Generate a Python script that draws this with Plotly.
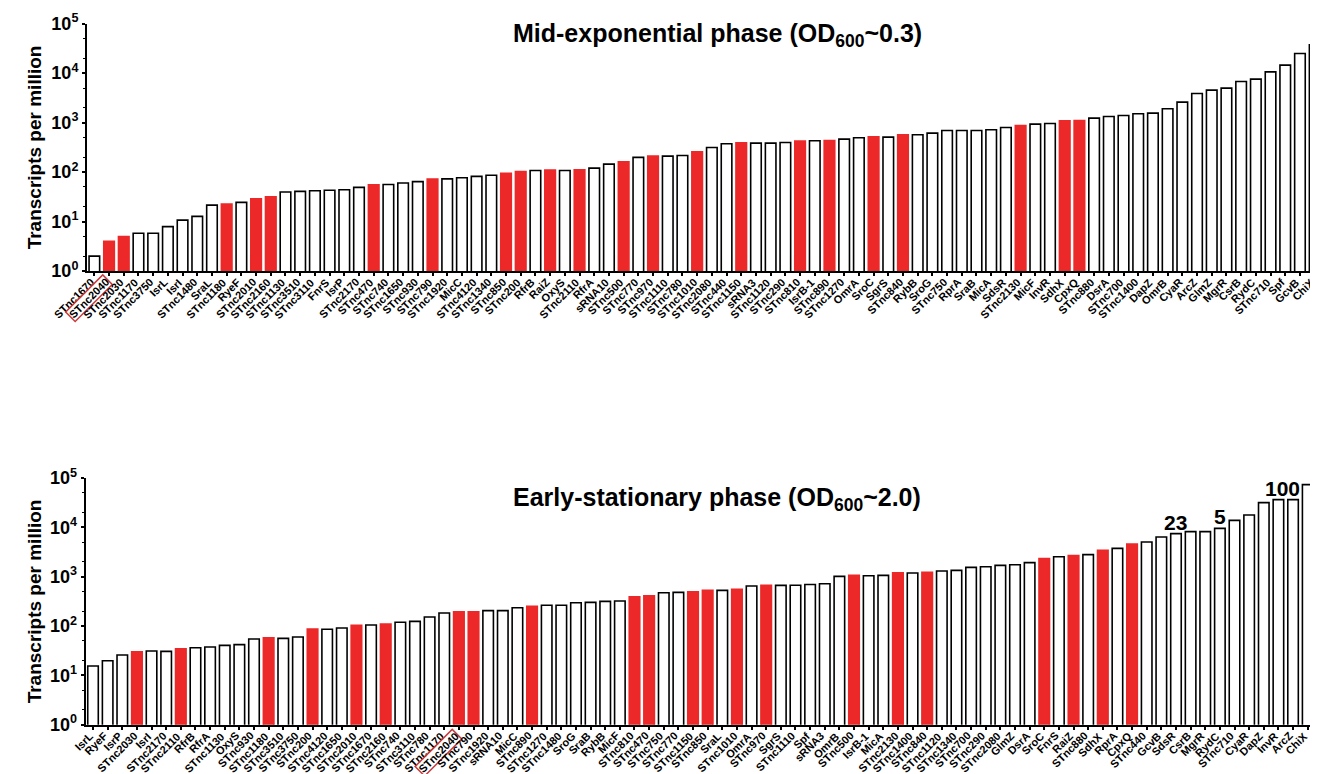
import math
import plotly.graph_objects as go

# ---------------- data ----------------
top_names = ["STnc1670", "STnc2040", "STnc2030", "STnc1170", "STnc3750", "IsrL", "IsrI", "STnc1480",
             "SraL", "STnc1180", "RyeF", "STnc2010", "STnc2160", "STnc1130", "STnc3510", "STnc3110",
             "FnrS", "IsrP", "STnc2170", "STnc470", "STnc740", "STnc1650", "STnc930", "STnc790",
             "STnc1920", "MicC", "STnc4120", "STnc1340", "STnc850", "STnc200", "RfrB", "RaiZ",
             "OxyS", "STnc2110", "RfrA", "sRNA10", "STnc500", "STnc770", "STnc970", "STnc1110",
             "STnc780", "STnc1010", "STnc2080", "STnc440", "STnc1150", "sRNA3", "STnc1120", "STnc290",
             "STnc810", "IsrB-1", "STnc890", "STnc1270", "OmrA", "SroC", "SgrS", "STnc840",
             "RybB", "SroG", "STnc750", "RprA", "SraB", "MicA", "SdsR", "STnc2130",
             "MicF", "InvR", "SdhX", "CpxQ", "STnc880", "DsrA", "STnc700", "STnc1400",
             "DapZ", "OmrB", "CyaR", "ArcZ", "GlmZ", "MgrR", "CsrB", "RydC",
             "STnc710", "Spf", "GcvB", "ChiX"]
top_values = [2.0, 4.0, 5.0, 5.8, 5.8, 7.9, 10.7, 12.7,
              21.5, 22.6, 24.4, 28.9, 31.8, 39.5, 40.7, 42,
              43, 44, 49, 55, 56, 60, 64, 72,
              73, 77, 82, 86, 95, 102, 108, 110,
              108, 111, 120, 145, 162, 198, 210, 210,
              217, 258, 315, 373, 391, 385, 385, 397,
              423, 430, 436, 464, 494, 518, 510, 568,
              568, 614, 695, 695, 695, 716, 798, 877,
              933, 962, 1089, 1106, 1233, 1333, 1397, 1508,
              1556, 1903, 2592, 3882, 4536, 4974, 6787, 7566,
              10640, 14520, 24950, 37350]

bottom_names = ["IsrL", "RyeF", "IsrP", "STnc2030", "IsrI", "STnc2170", "STnc2110", "RfrB",
                "RfrA", "STnc1130", "OxyS", "STnc930", "STnc1180", "STnc3510", "STnc3750", "STnc200",
                "STnc4120", "STnc1650", "STnc2010", "STnc1670", "STnc2160", "STnc740", "STnc3110", "STnc780",
                "STnc1170", "STnc2040", "STnc790", "STnc1920", "sRNA10", "MicC", "STnc890", "STnc1270",
                "STnc1480", "SroG", "SraB", "RybB", "MicF", "STnc810", "STnc470", "STnc750",
                "STnc770", "STnc1150", "STnc850", "SraL", "STnc1010", "OmrA", "STnc970", "SgrS",
                "STnc1110", "Spf", "sRNA3", "OmrB", "STnc500", "IsrB-1", "MicA", "STnc2130",
                "STnc1400", "STnc840", "STnc1120", "STnc1340", "STnc700", "STnc290", "STnc2080", "GlmZ",
                "DsrA", "SroC", "FnrS", "RaiZ", "STnc880", "SdhX", "RprA", "CpxQ",
                "STnc440", "GcvB", "SdsR", "CsrB", "MgrR", "RydC", "STnc710", "CyaR",
                "DapZ", "InvR", "ArcZ", "ChiX"]
bottom_values = [15.5, 19.8, 25.8, 30.2, 31.1, 30.6, 34.7, 36.4,
                 37.5, 40.6, 41.9, 54.5, 58, 56.2, 60, 87,
                 86, 91, 103, 105, 110, 119, 124, 152,
                 183, 195, 195, 205, 205, 235, 250, 263,
                 263, 297, 302, 316, 321, 393, 412, 474,
                 481, 496, 528, 528, 554, 647, 667, 667,
                 672, 695, 721, 1016, 1065, 1048, 1065, 1205,
                 1186, 1224, 1303, 1344, 1545, 1595, 1698, 1751,
                 1923, 2317, 2543, 2666, 2793, 3420, 3752, 4590,
                 5042, 6370, 7442, 8170, 8170, 9550, 13870, 17780,
                 31620, 36400, 36400, 73280]

red_names = ["STnc2040", "STnc2030", "STnc1180", "STnc2010", "STnc2160", "STnc470", "STnc790",
             "STnc850", "STnc200", "RaiZ", "STnc2110", "STnc500", "STnc970", "STnc1010",
             "STnc1150", "STnc810", "STnc890", "SroC", "STnc840", "STnc2130", "SdhX", "CpxQ"]

boxed_name = "STnc2040"
bottom_notes = {"SdsR": "23", "RydC": "5", "ArcZ": "100"}

top_title = "Mid-exponential phase (OD<sub>600</sub>~0.3)"
bottom_title = "Early-stationary phase (OD<sub>600</sub>~2.0)"
y_title = "Transcripts per million"
ytick_vals = [1, 10, 100, 1000, 10000, 100000]
ytick_text = ["10<sup>0</sup>", "10<sup>1</sup>", "10<sup>2</sup>", "10<sup>3</sup>", "10<sup>4</sup>", "10<sup>5</sup>"]

# ---------------- style ----------------
W, H = 1318, 774
FONT = "Liberation Sans, Arial, sans-serif"
RED = "#EC2828"
BOX = "#C9393C"
TICK_SIZE = 11


def fx(p):
    return p / W


def fy(p):
    return 1 - p / H


def bar_trace(names, values, xa, ya):
    fill = [RED if n in red_names else "white" for n in names]
    edge = [RED if n in red_names else "black" for n in names]
    return go.Bar(x=names, y=values, xaxis=xa, yaxis=ya,
                  marker=dict(color=fill, line=dict(color=edge, width=1.6)),
                  showlegend=False, hoverinfo="x+y")


fig = go.Figure()
fig.add_trace(bar_trace(top_names, top_values, "x", "y"))
fig.add_trace(bar_trace(bottom_names, bottom_values, "x2", "y2"))


def xaxis_cfg(names, domain, anchor):
    return dict(domain=domain, anchor=anchor, type="category",
                categoryorder="array", categoryarray=names,
                range=[-0.5, len(names) - 0.5],
                tickmode="array", tickvals=names, showticklabels=False,
                ticks="outside", ticklen=3, tickwidth=1.5, tickcolor="black",
                showline=True, linecolor="black", linewidth=2,
                showgrid=False, zeroline=False, automargin=False, fixedrange=True)


def yaxis_cfg(domain, anchor):
    return dict(domain=domain, anchor=anchor, type="log", range=[0, 5],
                tickmode="array", tickvals=ytick_vals, ticktext=ytick_text,
                tickfont=dict(family=FONT, size=18, color="black", weight="bold"),
                ticks="outside", ticklen=3, tickwidth=2, tickcolor="black",
                minor=dict(ticks="outside", ticklen=2, tickwidth=1, tickcolor="black", showgrid=False),
                showline=True, linecolor="black", linewidth=2,
                showgrid=False, zeroline=False, automargin=False, fixedrange=True)


fig.update_layout(
    width=W, height=H,
    margin=dict(l=0, r=0, t=0, b=0),
    paper_bgcolor="white", plot_bgcolor="white",
    bargap=0.28,
    font=dict(family=FONT, color="black"),
    xaxis=xaxis_cfg(top_names, [fx(79), fx(1314)], "y"),
    yaxis=yaxis_cfg([fy(263), fy(15.7)], "x"),
    xaxis2=xaxis_cfg(bottom_names, [fx(77.7), fx(1307)], "y2"),
    yaxis2=yaxis_cfg([fy(716.7), fy(470)], "x2"),
)

ann = []
# panel titles
for txt, yc in [(top_title, 27), (bottom_title, 491)]:
    ann.append(dict(text=txt, x=fx(709), y=fy(yc), xref="paper", yref="paper",
                    xanchor="center", yanchor="middle", showarrow=False,
                    font=dict(family=FONT, size=25, color="black", weight="bold")))
# y titles
for yc in [(15.7 + 263) / 2, (470 + 716.7) / 2]:
    ann.append(dict(text=y_title, x=fx(26), y=fy(yc), xref="paper", yref="paper",
                    xanchor="center", yanchor="middle",
                    textangle=-90, showarrow=False,
                    font=dict(family=FONT, size=19, color="black", weight="bold")))
# rotated category labels (all drawn the same way so the boxed one lines up)
for names, xr, yr in [(top_names, "x", "y domain"), (bottom_names, "x2", "y2 domain")]:
    for n in names:
        ann.append(dict(text=n, x=n, y=0, xref=xr, yref=yr,
                        xanchor="right", yanchor="top", textangle=-45, showarrow=False,
                        xshift=4, yshift=-3,
                        bordercolor=BOX if n == boxed_name else "rgba(0,0,0,0)",
                        borderwidth=1.5, borderpad=0,
                        font=dict(family=FONT, size=TICK_SIZE, color="black", weight="bold")))
# number labels above bars
for name, label in bottom_notes.items():
    v = bottom_values[bottom_names.index(name)]
    ann.append(dict(text=label, x=name, y=math.log10(v), xref="x2", yref="y2",
                    xanchor="center", yanchor="bottom", showarrow=False, yshift=-2,
                    xshift=-11 if label == "100" else 0,
                    font=dict(family=FONT, size=21, color="black", weight="bold")))

fig.update_layout(annotations=ann)
fig.write_html("out.html")
